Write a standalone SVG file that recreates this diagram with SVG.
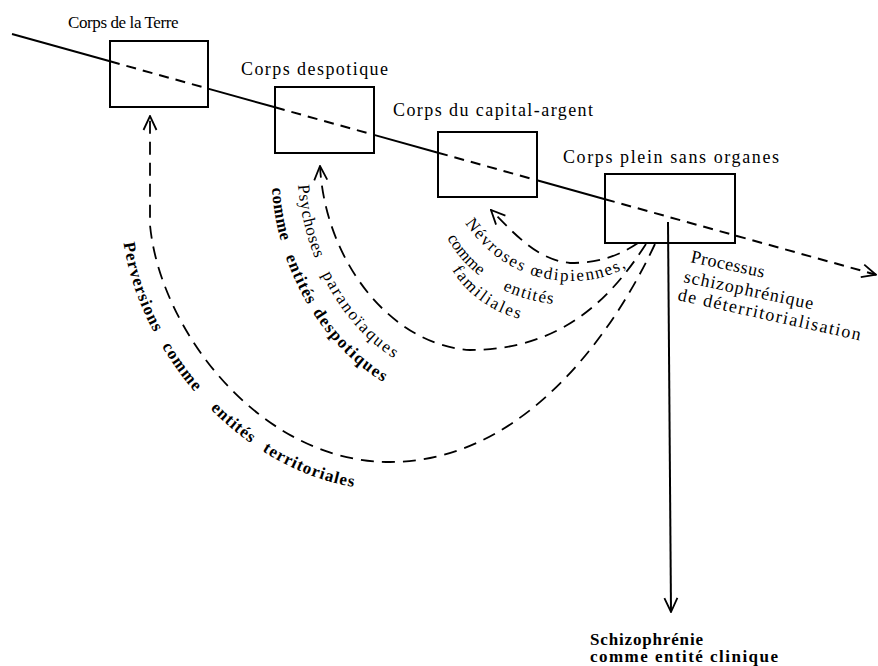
<svg xmlns="http://www.w3.org/2000/svg" width="878" height="666" viewBox="0 0 878 666">
<style>
text{font-family:"Liberation Serif","DejaVu Serif",serif;fill:#000}
.lbl{font-size:18px}
.arc{font-size:17px}
.box{fill:none;stroke:#000;stroke-width:2}
.solid{fill:none;stroke:#000;stroke-width:2}
.dash{fill:none;stroke:#000;stroke-width:2;stroke-dasharray:10 7}
.cdash{fill:none;stroke:#000;stroke-width:1.8;stroke-dasharray:13 8}
</style>
<defs>
<marker id="arr" markerUnits="userSpaceOnUse" viewBox="0 0 16 16" markerWidth="16" markerHeight="16" refX="15" refY="8" orient="auto">
<path d="M1,1.5 L15,8 L1,14.5" fill="none" stroke="#000" stroke-width="1.8"/>
</marker>
<path id="pPerv" d="M122,228 C 130,345 245,490 390,490"/>
<path id="pPsy1" d="M298,183 C 303,255 340,330 405,365"/>
<path id="pPsy2" d="M272,188 C 277,272 325,355 398,390"/>
<path id="pNev1" d="M465,223 C 490,258 520,278 565,281 C 595,282 615,275 635,262"/>
<path id="pNev2" d="M447,238 C 468,275 505,300 562,305"/>
<path id="pNev3" d="M452,270 C 468,295 492,313 525,320"/>
</defs>
<rect width="878" height="666" fill="#fff"/>

<g id="connectors">
<line class="solid" x1="12" y1="34" x2="110" y2="61.3"/>
<line class="dash" x1="110" y1="61.3" x2="208" y2="88.6"/>
<line class="solid" x1="208" y1="88.6" x2="275" y2="107.3"/>
<line class="dash" x1="275" y1="107.3" x2="374" y2="134.9"/>
<line class="solid" x1="374" y1="134.9" x2="438" y2="152.7"/>
<line class="dash" x1="438" y1="152.7" x2="537" y2="180.3"/>
<line class="solid" x1="537" y1="180.3" x2="605" y2="199.2"/>
<line class="dash" x1="605" y1="199.2" x2="876" y2="274.7" marker-end="url(#arr)"/>
<path class="cdash" d="M655,244 C 610,340 520,462 390,462 C 260,462 160,330 150,225 L150,116" marker-end="url(#arr)"/>
<path class="cdash" d="M646,244 C 610,300 560,350 470,350 C 390,345 325,260 320,166" marker-end="url(#arr)"/>
<path class="cdash" d="M638,243 C 620,255 600,263 570,263 C 540,260 520,240 491,210" marker-end="url(#arr)"/>
<path class="solid" d="M668,222 L671,612" marker-end="url(#arr)"/>
</g>

<g id="corps-terre">
<rect class="box" x="110" y="41" width="98" height="66"/>
<text style="font-size:17px;letter-spacing:-0.4px" x="68" y="28">Corps de la Terre</text>
</g>
<g id="corps-despotique">
<rect class="box" x="275" y="87" width="99" height="66"/>
<text class="lbl" x="241" y="75" textLength="147" lengthAdjust="spacing">Corps despotique</text>
</g>
<g id="corps-capital">
<rect class="box" x="438" y="132" width="99" height="65"/>
<text class="lbl" x="393" y="116" textLength="200" lengthAdjust="spacing">Corps du capital-argent</text>
</g>
<g id="corps-plein">
<rect class="box" x="605" y="174" width="130" height="69"/>
<text class="lbl" x="563" y="163" textLength="216" lengthAdjust="spacing">Corps plein sans organes</text>
</g>

<g id="perversions">
<text style="font-size:17px;font-weight:bold;letter-spacing:1px">
<textPath href="#pPerv" startOffset="15">Perversions</textPath>
<textPath href="#pPerv" startOffset="126">comme</textPath>
<textPath href="#pPerv" startOffset="205">entités</textPath>
<textPath href="#pPerv" startOffset="272">territoriales</textPath>
</text>
</g>

<g id="psychoses">
<text class="arc" style="letter-spacing:0.7px"><textPath href="#pPsy1" startOffset="2">Psychoses</textPath></text>
<text class="arc" style="letter-spacing:2px"><textPath href="#pPsy1" startOffset="95">paranoïaques</textPath></text>
<text class="arc" style="font-weight:bold;letter-spacing:0.5px"><textPath href="#pPsy2" startOffset="0">comme</textPath></text>
<text class="arc" style="font-weight:bold;letter-spacing:1px"><textPath href="#pPsy2" startOffset="70">entités</textPath></text>
<text class="arc" style="font-weight:bold;letter-spacing:1.5px"><textPath href="#pPsy2" startOffset="132">despotiques</textPath></text>
</g>

<g id="nevroses">
<text style="font-size:17px;letter-spacing:1.8px"><textPath href="#pNev1" startOffset="0">Névroses œdipiennes,</textPath></text>
<text style="font-size:17px"><textPath href="#pNev2" startOffset="0">comme</textPath></text>
<text style="font-size:17px;letter-spacing:1.4px"><textPath href="#pNev2" startOffset="77">entités</textPath></text>
<text style="font-size:17px;letter-spacing:2px"><textPath href="#pNev3" startOffset="0">familiales</textPath></text>
</g>

<g id="processus">
<text class="lbl" transform="rotate(12 690 262)" x="690" y="262" textLength="75" lengthAdjust="spacing">Processus</text>
<text class="lbl" transform="rotate(12 683 282)" x="683" y="282" textLength="132" lengthAdjust="spacing">schizophrénique</text>
<text class="lbl" transform="rotate(12.5 677 300)" x="677" y="300" textLength="187" lengthAdjust="spacing">de déterritorialisation</text>
</g>

<g id="schizophrenie">
<text style="font-size:17px;font-weight:bold" x="590" y="645" textLength="113" lengthAdjust="spacing">Schizophrénie</text>
<text style="font-size:17px;font-weight:bold" x="590" y="662" textLength="188" lengthAdjust="spacing">comme entité clinique</text>
</g>
</svg>
